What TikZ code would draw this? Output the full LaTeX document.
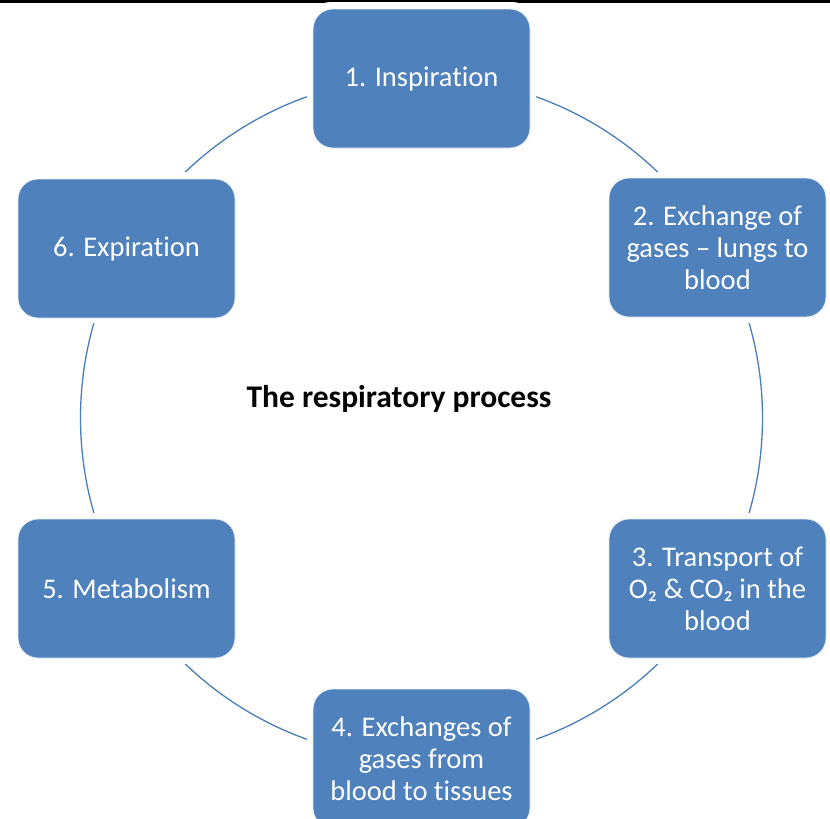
\documentclass[tikz,border=0pt]{standalone}
\usepackage{fontspec}
\setmainfont{Carlito}[Ligatures=NoCommon]
\definecolor{boxblue}{HTML}{4F81BD}
\definecolor{ringblue}{HTML}{4A7EBB}
\begin{document}
\begin{tikzpicture}[x=1pt,y=-1pt,
  stepbox/.style={rectangle, rounded corners=20pt, fill=boxblue, draw=white!85!boxblue, line width=0.8pt,
    minimum width=217pt, minimum height=139pt, text=white, align=center,
    font=\fontsize{28.5}{32}\selectfont, inner sep=0pt},
  halo/.style={rectangle, rounded corners=24pt, fill=white, minimum width=229pt, minimum height=151pt, inner sep=0pt}]
\useasboundingbox (0,0) rectangle (830,819);
\fill[black] (0,0) rectangle (830,2.5);
\coordinate (c) at (421.5,418);
\draw[ringblue, line width=1.3pt] (c) circle[radius=341];
\foreach \p in {(421.5,77.5),(717.5,247.5),(717.5,588.5),(421.5,758.5),(126.5,588.5),(126.5,247.5)}
  \node[halo] at \p {};
\node[stepbox] (s1) at (421.5,78.5) {1. Inspiration};
\node[stepbox] (s2) at (717.5,247.5) {2. Exchange of\\gases – lungs to\\blood};
\node[stepbox] (s3) at (717.5,588.5) {3. Transport of\\O₂ \& CO₂ in the\\blood};
\node[stepbox] (s4) at (421.5,758.5) {4. Exchanges of\\gases from\\blood to tissues};
\node[stepbox] (s5) at (126.5,588.5) {5. Metabolism};
\node[stepbox] (s6) at (126.5,248.5) {6. Expiration};
\node[font=\fontsize{31.5}{36}\selectfont\bfseries] (title) at (399,399) {The respiratory process};
\end{tikzpicture}
\end{document}
